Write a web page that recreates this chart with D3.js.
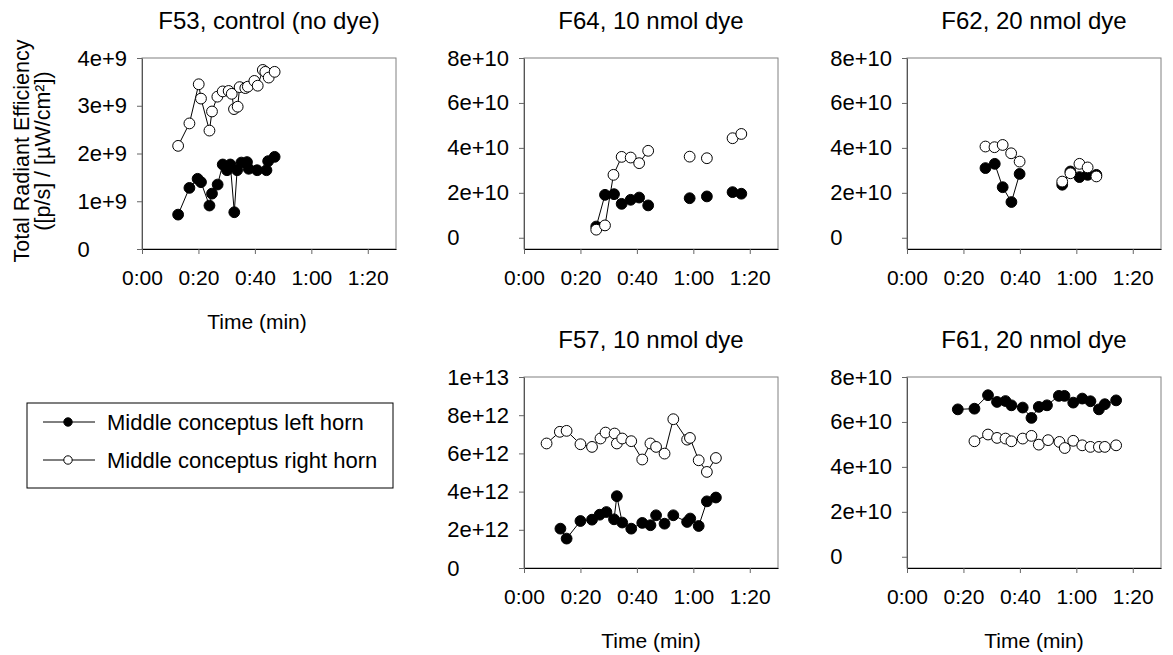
<!DOCTYPE html>
<html>
<head>
<meta charset="utf-8">
<script src="https://cdn.jsdelivr.net/npm/d3@7"></script>
<style>
  body { margin: 0; background: #fff; }
  text { font-family: "Liberation Sans", Arial, sans-serif; fill: #000; }
</style>
</head>
<body>
<svg id="chart" width="1173" height="655"></svg>
<script>
// x axis (minutes)
const xTickValues = [0, 20, 40, 60, 80];
const xTickLabels = ["0:00", "0:20", "0:40", "1:00", "1:20"];

// y ticks
const f53YTicks = [0, 1e9, 2e9, 3e9, 4e9];
const dyeYTicks = [0, 2e10, 4e10, 6e10, 8e10];
const f57YTicks = [0, 2e12, 4e12, 6e12, 8e12, 1e13];

// F53, control
const f53LeftTime = [12.8, 16.8, 19.7, 20.9, 23.9, 24.8, 26.8, 28.6, 30.1, 31.3, 32.7, 33.7, 35.2, 37.2, 37.8, 40.8, 44.1, 44.7, 47.0];
const f53LeftVal = [0.72e9, 1.28e9, 1.47e9, 1.40e9, 0.91e9, 1.16e9, 1.35e9, 1.77e9, 1.65e9, 1.77e9, 0.77e9, 1.65e9, 1.81e9, 1.82e9, 1.68e9, 1.65e9, 1.65e9, 1.84e9, 1.93e9];
const f53RightTime = [12.8, 16.8, 20.1, 20.9, 23.9, 24.8, 26.7, 28.6, 30.7, 31.8, 32.6, 33.9, 34.6, 36.6, 37.5, 39.8, 41.0, 42.8, 43.7, 44.9, 47.0];
const f53RightVal = [2.16e9, 2.63e9, 3.45e9, 3.15e9, 2.48e9, 2.88e9, 3.19e9, 3.30e9, 3.31e9, 3.25e9, 2.93e9, 2.98e9, 3.39e9, 3.37e9, 3.40e9, 3.52e9, 3.42e9, 3.75e9, 3.71e9, 3.59e9, 3.71e9];

// F64, 10 nmol (null = gap in the line)
const f64LeftTime = [25.6, 28.7, 31.9, 34.6, 37.8, 40.8, 44.0, null, 58.7, null, 64.8, null, 73.9, null, 77.0];
const f64LeftVal = [0.50e10, 1.91e10, 1.94e10, 1.51e10, 1.69e10, 1.79e10, 1.44e10, null, 1.76e10, null, 1.84e10, null, 2.03e10, null, 1.96e10];
const f64RightTime = [25.6, 28.7, 31.7, 34.6, 37.8, 40.8, 44.0, null, 58.7, null, 64.8, null, 73.9, null, 77.0];
const f64RightVal = [0.36e10, 0.55e10, 2.80e10, 3.60e10, 3.57e10, 3.32e10, 3.87e10, null, 3.61e10, null, 3.54e10, null, 4.43e10, null, 4.62e10];

// F62, 20 nmol
const f62LeftTime = [27.8, 31.1, 33.9, 37.0, 39.9, null, 55.0, 57.9, 61.1, 64.0, 67.1];
const f62LeftVal = [3.10e10, 3.29e10, 2.25e10, 1.59e10, 2.84e10, null, 2.36e10, 2.95e10, 2.70e10, 2.80e10, 2.80e10];
const f62RightTime = [27.8, 31.0, 33.9, 36.9, 39.9, null, 55.0, 57.9, 61.1, 64.0, 67.1];
const f62RightVal = [4.06e10, 4.03e10, 4.13e10, 3.76e10, 3.39e10, null, 2.50e10, 2.87e10, 3.29e10, 3.13e10, 2.73e10];

// F57, 10 nmol
const f57LeftTime = [12.9, 15.1, 20.0, 24.1, 26.8, 29.2, 31.9, 32.9, 34.8, 38.0, 41.9, 44.8, 46.8, 49.8, 52.9, 57.8, 58.9, 61.9, 64.8, 68.0];
const f57LeftVal = [2.06e12, 1.54e12, 2.46e12, 2.53e12, 2.79e12, 2.93e12, 2.55e12, 3.76e12, 2.38e12, 2.06e12, 2.36e12, 2.24e12, 2.76e12, 2.32e12, 2.76e12, 2.41e12, 2.59e12, 2.20e12, 3.49e12, 3.69e12];
const f57RightTime = [8.0, 12.7, 15.1, 20.0, 24.1, 27.1, 28.9, 32.1, 32.9, 34.8, 38.0, 41.9, 44.8, 46.8, 49.8, 52.9, 57.8, 58.8, 61.9, 64.8, 68.0];
const f57RightVal = [6.52e12, 7.13e12, 7.18e12, 6.48e12, 6.34e12, 6.78e12, 7.09e12, 7.04e12, 6.52e12, 6.78e12, 6.64e12, 5.68e12, 6.52e12, 6.34e12, 5.99e12, 7.79e12, 6.72e12, 6.81e12, 5.64e12, 5.03e12, 5.76e12];

// F61, 20 nmol
const f61LeftTime = [18.0, 23.9, 28.7, 31.9, 34.9, 37.0, 41.0, 44.1, 46.7, 49.6, 53.8, 55.8, 58.9, 62.1, 65.0, 68.0, 70.1, 74.1];
const f61LeftVal = [6.56e10, 6.59e10, 7.19e10, 6.89e10, 6.93e10, 6.74e10, 6.64e10, 6.18e10, 6.67e10, 6.74e10, 7.16e10, 7.16e10, 6.86e10, 7.04e10, 6.92e10, 6.56e10, 6.79e10, 6.96e10];
const f61RightTime = [23.9, 28.7, 31.9, 34.9, 37.0, 41.0, 44.1, 46.7, 50.0, 54.0, 55.9, 58.9, 62.1, 65.0, 68.0, 70.1, 74.1];
const f61RightVal = [5.14e10, 5.44e10, 5.29e10, 5.26e10, 5.14e10, 5.26e10, 5.38e10, 4.99e10, 5.19e10, 5.11e10, 4.84e10, 5.16e10, 4.96e10, 4.89e10, 4.89e10, 4.89e10, 4.96e10];

const legendLabels = ["Middle conceptus left horn", "Middle conceptus right horn"];

const svg = d3.select("#chart");
const plotW = 254, plotH = 191;
const colX = [142, 524, 907];
const rowY = [58, 377];

const panels = [
  { title: "F53, control (no dye)", col: 0, row: 0, yDomain: [0, 4e9], yTicks: f53YTicks,
    left: [f53LeftTime, f53LeftVal], right: [f53RightTime, f53RightVal], xTitle: true, xTitleShift: -12 },
  { title: "F64, 10 nmol dye", col: 1, row: 0, yDomain: [-0.5e10, 8e10], yTicks: dyeYTicks,
    left: [f64LeftTime, f64LeftVal], right: [f64RightTime, f64RightVal], xTitle: false },
  { title: "F62, 20 nmol dye", col: 2, row: 0, yDomain: [-0.5e10, 8e10], yTicks: dyeYTicks,
    left: [f62LeftTime, f62LeftVal], right: [f62RightTime, f62RightVal], xTitle: false },
  { title: "F57, 10 nmol dye", col: 1, row: 1, yDomain: [0, 1e13], yTicks: f57YTicks,
    left: [f57LeftTime, f57LeftVal], right: [f57RightTime, f57RightVal], xTitle: true, xTitleShift: 0 },
  { title: "F61, 20 nmol dye", col: 2, row: 1, yDomain: [-0.5e10, 8e10], yTicks: dyeYTicks,
    left: [f61LeftTime, f61LeftVal], right: [f61RightTime, f61RightVal], xTitle: true, xTitleShift: 0 }
];

const fmtY = d => d === 0 ? "0" : d3.format(".0e")(d);

function toPoints(times, vals) {
  return times.map((t, i) => ({ t: t, v: vals[i] }));
}

panels.forEach(p => {
  const g = svg.append("g")
    .attr("transform", `translate(${colX[p.col]},${rowY[p.row]})`);

  const x = d3.scaleLinear().domain([0, 90]).range([0, plotW]);
  const y = d3.scaleLinear().domain(p.yDomain).range([plotH, 0]);

  // frame
  g.append("rect")
    .attr("width", plotW).attr("height", plotH)
    .attr("fill", "none").attr("stroke", "#808080").attr("stroke-width", 1);

  const yAxis = g.append("g")
    .call(d3.axisLeft(y).tickValues(p.yTicks).tickFormat(fmtY).tickSize(5).tickSizeOuter(0).tickPadding(10));
  yAxis.select(".domain").attr("stroke", "#555");
  yAxis.selectAll(".tick line").attr("stroke", "#666");
  const yLabels = yAxis.selectAll("text").style("font-size", "22px").attr("fill", "#000");
  // labels are left aligned on the widest one
  let maxW = 0;
  yLabels.each(function () { maxW = Math.max(maxW, this.getComputedTextLength()); });
  yLabels.attr("text-anchor", "start").attr("x", -15 - maxW);

  const xAxis = g.append("g")
    .attr("transform", `translate(0,${plotH})`)
    .call(d3.axisBottom(x).tickValues(xTickValues)
      .tickFormat((d, i) => xTickLabels[i]).tickSize(5).tickSizeOuter(0).tickPadding(16));
  xAxis.select(".domain").attr("stroke", "#000");
  xAxis.selectAll(".tick line").attr("stroke", "#666");
  xAxis.selectAll("text").style("font-size", "21px").attr("fill", "#000");

  g.append("text")
    .attr("x", plotW / 2).attr("y", -29)
    .attr("text-anchor", "middle")
    .style("font-size", "24px")
    .text(p.title);

  if (p.xTitle) {
    g.append("text")
      .attr("x", plotW / 2 + p.xTitleShift).attr("y", plotH + 80)
      .attr("text-anchor", "middle")
      .style("font-size", "21px")
      .text("Time (min)");
  }

  const line = d3.line()
    .defined(d => d.v !== null)
    .x(d => x(d.t))
    .y(d => y(d.v));

  [["left", "#000"], ["right", "#fff"]].forEach(([key, fill]) => {
    const pts = toPoints(p[key][0], p[key][1]);
    g.append("path")
      .datum(pts)
      .attr("d", line)
      .attr("fill", "none")
      .attr("stroke", "#000")
      .attr("stroke-width", 1);
    g.selectAll(".pt-" + key)
      .data(pts.filter(d => d.v !== null))
      .join("circle")
      .attr("class", "pt-" + key)
      .attr("cx", d => x(d.t))
      .attr("cy", d => y(d.v))
      .attr("r", 5.4)
      .attr("fill", fill)
      .attr("stroke", "#000")
      .attr("stroke-width", 1);
  });
});

// y axis title (shared)
const yTitle = svg.append("text")
  .attr("transform", "translate(29,151) rotate(-90)")
  .attr("text-anchor", "middle")
  .style("font-size", "21.5px");
yTitle.append("tspan").attr("x", 0).attr("dy", 0).text("Total Radiant Efficiency");
yTitle.append("tspan").attr("x", 0).attr("dy", 21).text("([p/s] / [µW/cm²])");

// legend
const legend = svg.append("g");
legend.append("rect")
  .attr("x", 27).attr("y", 403).attr("width", 366).attr("height", 85)
  .attr("fill", "none").attr("stroke", "#000").attr("stroke-width", 1);

const legendFill = ["#000", "#fff"];
const lg = legend.selectAll(".entry")
  .data(legendLabels)
  .join("g")
  .attr("class", "entry")
  .attr("transform", (d, i) => `translate(0,${422 + i * 38})`);
lg.append("line")
  .attr("x1", 43).attr("x2", 95)
  .attr("stroke", "#000").attr("stroke-width", 1);
lg.append("circle")
  .attr("cx", 68).attr("r", 4.2)
  .attr("fill", (d, i) => legendFill[i])
  .attr("stroke", "#000");
lg.append("text")
  .attr("x", 107).attr("dy", "0.35em")
  .style("font-size", "22px")
  .text(d => d);
</script>
</body>
</html>
